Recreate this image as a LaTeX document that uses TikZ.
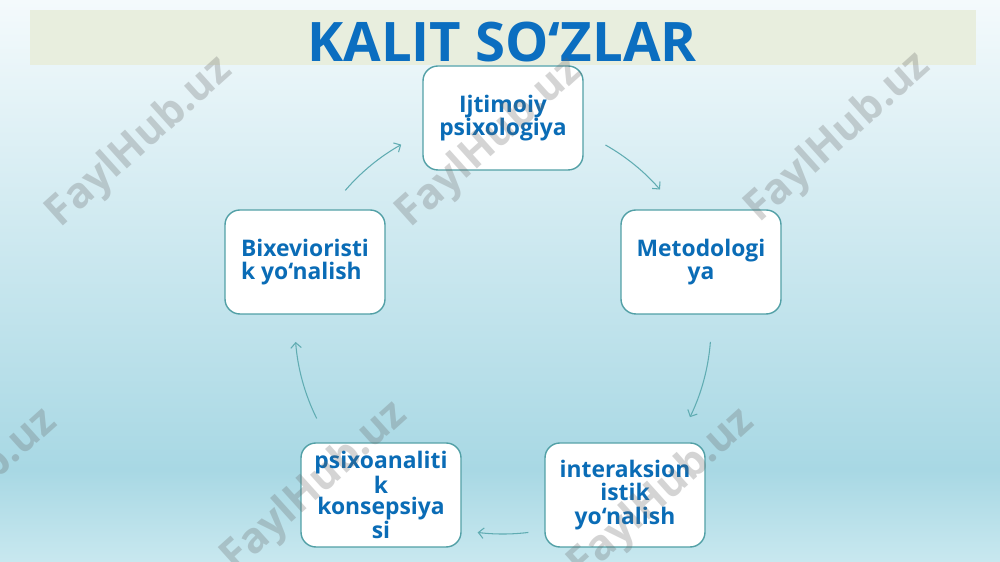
\documentclass[tikz,border=0pt]{standalone}
\usepackage{fontspec}
\setmainfont{Open Sans}
\usepackage{tikz}
\usetikzlibrary{arrows.meta,positioning}

\definecolor{titleblue}{RGB}{11,110,192}
\definecolor{wordblue}{RGB}{10,108,182}
\definecolor{boxedge}{RGB}{82,160,166}
\definecolor{arrowteal}{RGB}{96,172,178}
\definecolor{bandgreen}{RGB}{232,238,222}
\definecolor{bgtop}{RGB}{244,250,252}
\definecolor{bghalf}{RGB}{214,236,242}
\definecolor{bgmid}{RGB}{168,216,228}
\definecolor{bgbot}{RGB}{200,232,239}

\tikzset{>={Straight Barb[length=3pt,width=6pt]}}
\tikzset{
  keybox/.style={draw=boxedge, line width=0.8pt, fill=white, rounded corners=8.5pt,
    minimum width=3.2cm, minimum height=2.08cm, align=center, text=wordblue,
    font=\fontsize{13}{13}\selectfont\bfseries},
  cycarrow/.style={->, arrowteal, line width=0.6pt},
  wmark/.style={rotate=42, text=black!60, opacity=0.28, font=\fontsize{24}{24}\selectfont\bfseries}
}

\begin{document}
\begin{tikzpicture}
            % Background
            \useasboundingbox (0,0) rectangle (20,11.24);
            \shade[top color=bgtop, middle color=bghalf, bottom color=bgmid] (0,1.84) rectangle (20,11.24);
            \shade[top color=bgmid, bottom color=bgbot] (0,0) rectangle (20,1.84);

            % Title band
            \fill[bandgreen] (0.6,9.94) rectangle (19.52,11.04);
            \node[anchor=base, text=titleblue, inner sep=0pt,
                  font=\fontsize{31}{31}\selectfont\bfseries] (ttl) at (10.04,10.0) {KALIT SO‘ZLAR};

            % Key word boxes
            \node[keybox] (ijt) at (10.06,8.88) {Ijtimoiy\\psixologiya};
            \node[keybox] (met) at (14.02,6.0) {Metodologi\\ya};
            \node[keybox, font=\fontsize{13}{13.6}\selectfont\bfseries] (inter) at (12.5,1.34) {interaksion\\istik\\yo‘nalish};
            \node[keybox, font=\fontsize{13}{12}\selectfont\bfseries] (psix) at (7.62,1.34) {psixoanaliti\\k\\konsepsiya\\si};
            \node[keybox, align=left] (bix) at (6.1,6.0) {Bixevioristi\\k yo‘nalish};

            % Cycle arrows on a circle round the boxes
            \coordinate (ctr) at (10.06,4.72);
            \path (ctr) ++(60.5:4.16) coordinate (a1); % ijt -> met
            \path (ctr) ++(-4.4:4.16) coordinate (a2); % met -> inter
            \path (ctr) ++(-83:4.16) coordinate (a3); % inter -> psix
            \path (ctr) ++(-153.6:4.16) coordinate (a4); % psix -> bix
            \path (ctr) ++(139.3:4.16) coordinate (a5); % bix -> ijt
            \draw[cycarrow] (a1) arc[start angle=60.5, end angle=41, radius=4.16];
            \draw[cycarrow] (a2) arc[start angle=-4.4, end angle=-26, radius=4.16];
            \draw[cycarrow] (a3) arc[start angle=-83, end angle=-97, radius=4.16];
            \draw[cycarrow] (a4) arc[start angle=-153.6, end angle=-175.6, radius=4.16];
            \draw[cycarrow] (a5) arc[start angle=139.3, end angle=119.3, radius=4.16];

            % Watermarks
            \node[wmark] (wm1) at (2.8,8.39) {FaylHub.uz};
            \node[wmark] (wm2) at (9.8,8.38) {FaylHub.uz};
            \node[wmark] (wm3) at (16.77,8.48) {FaylHub.uz};
            \node[wmark] (wm4) at (-0.7,1.36) {FaylHub.uz};
            \node[wmark] (wm5) at (6.3,1.5) {FaylHub.uz};
            \node[wmark] (wm6) at (13.24,1.36) {FaylHub.uz};
\end{tikzpicture}
\end{document}
